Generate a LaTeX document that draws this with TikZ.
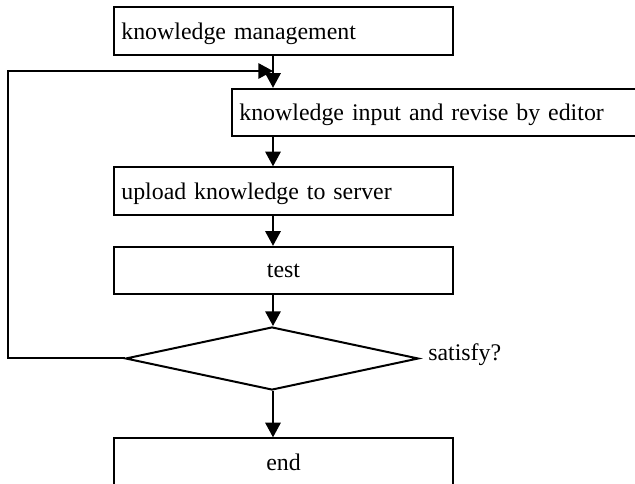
\documentclass[tikz,border=0pt]{standalone}
\usepackage{fontspec}
\setmainfont{Liberation Serif}
\usetikzlibrary{arrows.meta,shapes.geometric}
\begin{document}
\begin{tikzpicture}[x=0.75pt,y=-0.75pt,
  every node/.style={font=\fontsize{17.9}{21}\selectfont},
  box/.style={draw, line width=1.5pt, minimum height=35.5pt, inner xsep=5.5pt, inner ysep=0pt, text depth=0pt},
  lbox/.style={box, text width=#1, align=left},
  cbox/.style={box, minimum width=254.25pt},
  dec/.style={draw, diamond, line width=1.5pt, minimum width=219.75pt, minimum height=47.25pt, inner sep=0pt},
  conn/.style={line width=1.5pt, -{Triangle[length=11pt,width=11.5pt]}},
  plain/.style={line width=1.5pt}]
\clip (0,0) rectangle (635,484);
\coordinate (spine) at (273,0);
\coordinate (lx) at (8,0);
\coordinate (ly) at (0,71);
\node[lbox=243.25pt] (km) at (283.5,31) {knowledge management};
\node[lbox=295pt] (ki) at (436,112.5) {knowledge input and revise by editor};
\node[lbox=243.25pt] (up) at (283.5,191) {upload knowledge to server};
\node[cbox] (test) at (283.5,270.5) {test};
\node[dec] (sat) at (272,358.5) {};
\node[anchor=base west, inner sep=0pt] (satl) at (428,360) {satisfy?};
\node[cbox] (end) at (283.5,462) {end};
\draw[conn] (km.south -| spine) -- (ki.north -| spine);
\draw[conn] (ki.south -| spine) -- (up.north -| spine);
\draw[conn] (up.south -| spine) -- (test.north -| spine);
\draw[conn] (test.south -| spine) -- (sat.north -| spine);
\draw[conn] (sat.south -| spine) -- (end.north -| spine);
\draw[conn] (sat.west) -- (sat.west -| lx) -- (lx |- ly) -- (spine |- ly);
\end{tikzpicture}
\end{document}
